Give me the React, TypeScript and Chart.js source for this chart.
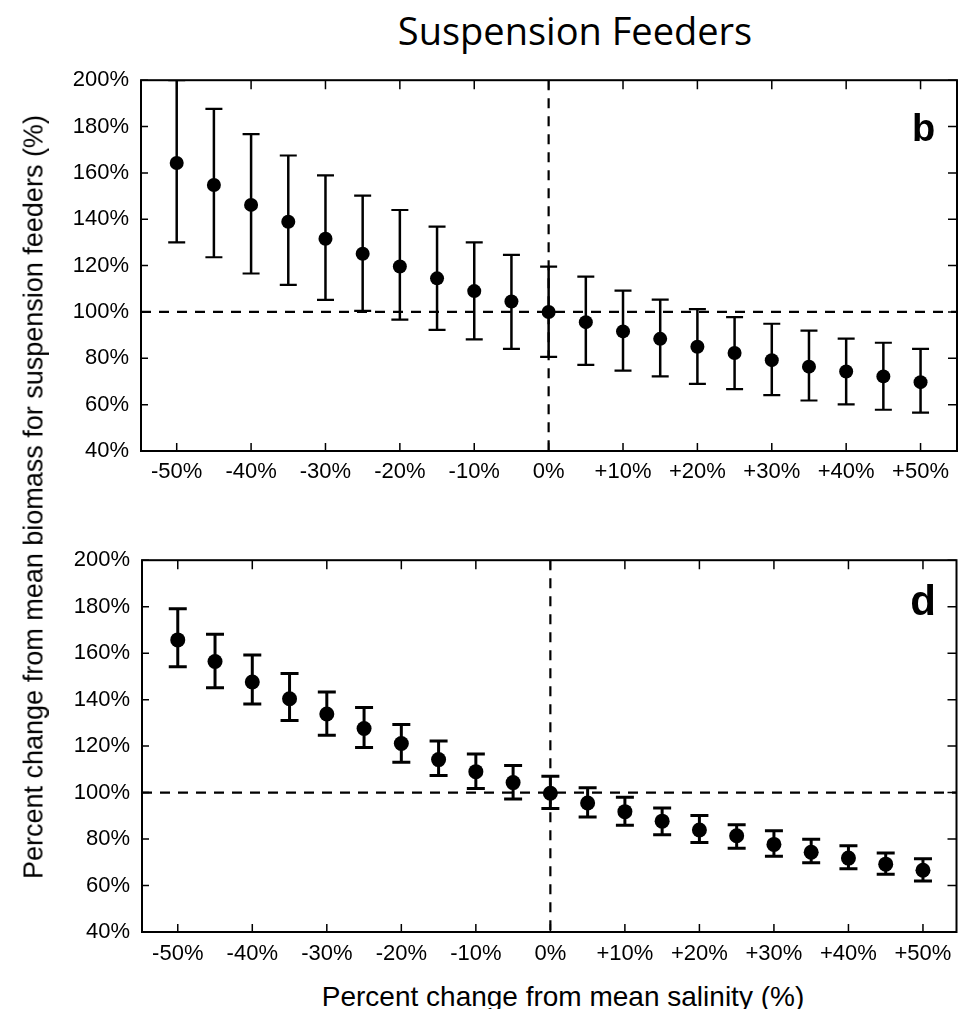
import React, { useEffect, useRef } from 'react';
import { Chart, registerables } from 'chart.js';

Chart.register(...registerables);

// ---------- data ----------
const xValues = [-50, -45, -40, -35, -30, -25, -20, -15, -10, -5, 0, 5, 10, 15, 20, 25, 30, 35, 40, 45, 50];
const xTickValues = [-50, -40, -30, -20, -10, 0, 10, 20, 30, 40, 50];
const yTickValues = [40, 60, 80, 100, 120, 140, 160, 180, 200];

// panel b
const meanB = [164.3, 154.8, 146.2, 138.9, 131.6, 125.1, 119.6, 114.5, 109.0, 104.5, 100.0, 95.6, 91.6, 88.4, 85.0, 82.3, 79.2, 76.4, 74.3, 72.2, 69.7];
const upperB = [200.0, 187.6, 176.7, 167.5, 158.9, 150.2, 144.0, 136.8, 130.0, 124.6, 119.6, 115.2, 109.2, 105.3, 101.2, 97.8, 94.9, 91.9, 88.5, 86.7, 84.1];
const lowerB = [130.0, 123.6, 116.6, 111.7, 105.2, 100.5, 96.7, 92.3, 88.2, 84.1, 80.6, 77.2, 74.7, 72.2, 69.0, 66.7, 64.1, 61.8, 60.1, 57.8, 56.6];

// panel d
const meanD = [165.7, 156.4, 147.6, 140.4, 133.8, 127.6, 121.1, 114.2, 109.0, 104.3, 99.7, 95.5, 91.8, 87.7, 83.9, 81.4, 77.7, 74.3, 71.8, 69.2, 66.6];
const upperD = [179.1, 168.1, 159.2, 151.2, 143.3, 136.6, 129.3, 122.2, 116.6, 111.7, 107.0, 102.1, 98.0, 93.4, 90.1, 86.2, 83.6, 79.9, 77.1, 74.0, 71.5];
const lowerD = [154.1, 145.1, 138.1, 131.0, 124.7, 119.4, 113.1, 107.4, 101.8, 97.2, 93.2, 89.5, 85.9, 81.8, 78.5, 76.0, 72.6, 69.8, 67.2, 64.9, 62.0];

const TITLE = 'Suspension Feeders';
const Y_LABEL = 'Percent change from mean biomass for suspension feeders (%)';
const X_LABEL = 'Percent change from mean salinity (%)';

const TICK_FONT = '"Liberation Sans", Arial, Helvetica, sans-serif';

type PanelCfg = {
  mean: number[];
  lower: number[];
  upper: number[];
  letter: string;
  letterSize: number;
  letterX: number;
  letterY: number;
  xMin: number;
  xMax: number;
  top: number;
  height: number;
  padTop: number;
  padRight: number;
  yAxisWidth: number;
  xAxisHeight: number;
  xTickPad: number;
  barWidth: number;
  capWidth: number;
  capHalf: number;
  pointRadius: number;
};

const panelB: PanelCfg = {
  mean: meanB, lower: lowerB, upper: upperB,
  letter: 'b', letterSize: 38, letterX: 50.4, letterY: 173.8,
  xMin: -54.8, xMax: 54.9,
  top: 55, height: 440, padTop: 18, padRight: 3,
  yAxisWidth: 141, xAxisHeight: 44, xTickPad: 8,
  barWidth: 2.5, capWidth: 2.2, capHalf: 8.5, pointRadius: 7,
};

const panelD: PanelCfg = {
  mean: meanD, lower: lowerD, upper: upperD,
  letter: 'd', letterSize: 42, letterX: 50.0, letterY: 176.3,
  xMin: -54.8, xMax: 54.5,
  top: 535, height: 440, padTop: 19, padRight: 2,
  yAxisWidth: 142, xAxisHeight: 43, xTickPad: 9,
  barWidth: 3, capWidth: 3, capHalf: 9, pointRadius: 7.5,
};

function fmtX(v: number) {
  if (v === 0) return '0%';
  return v > 0 ? `+${v}%` : `${v}%`;
}

function makePlugin(cfg: PanelCfg) {
  return {
    id: 'panelDecor',
    beforeDatasetsDraw(chart: any) {
      const { ctx, chartArea: a, scales } = chart;
      const xs = scales.x;
      const ys = scales.y;
      ctx.save();
      ctx.beginPath();
      ctx.rect(a.left, a.top, a.right - a.left, a.bottom - a.top);
      ctx.clip();
      // dashed reference lines
      ctx.strokeStyle = '#000';
      ctx.lineWidth = 2.2;
      ctx.setLineDash([10, 8]);
      const y100 = ys.getPixelForValue(100);
      ctx.beginPath();
      ctx.moveTo(a.left, y100);
      ctx.lineTo(a.right, y100);
      ctx.stroke();
      const x0 = xs.getPixelForValue(0);
      ctx.beginPath();
      ctx.moveTo(x0, a.top);
      ctx.lineTo(x0, a.bottom);
      ctx.stroke();
      ctx.setLineDash([]);
      // error bars
      ctx.lineCap = 'butt';
      for (let i = 0; i < xValues.length; i++) {
        const px = xs.getPixelForValue(xValues[i]);
        const yl = ys.getPixelForValue(cfg.lower[i]);
        const yh = ys.getPixelForValue(cfg.upper[i]);
        ctx.lineWidth = cfg.barWidth;
        ctx.beginPath();
        ctx.moveTo(px, yl);
        ctx.lineTo(px, yh);
        ctx.stroke();
        ctx.lineWidth = cfg.capWidth;
        ctx.beginPath();
        ctx.moveTo(px - cfg.capHalf, yl);
        ctx.lineTo(px + cfg.capHalf, yl);
        ctx.moveTo(px - cfg.capHalf, yh);
        ctx.lineTo(px + cfg.capHalf, yh);
        ctx.stroke();
      }
      ctx.restore();
    },
    afterDatasetsDraw(chart: any) {
      const { ctx, chartArea: a, scales } = chart;
      const xs = scales.x;
      const ys = scales.y;
      ctx.save();
      ctx.strokeStyle = '#000';
      // frame
      ctx.lineWidth = 2;
      ctx.strokeRect(a.left, a.top, a.right - a.left, a.bottom - a.top);
      // inward ticks
      ctx.lineWidth = 1.5;
      ctx.beginPath();
      for (const v of xTickValues) {
        const px = xs.getPixelForValue(v);
        ctx.moveTo(px, a.bottom);
        ctx.lineTo(px, a.bottom - 8);
        ctx.moveTo(px, a.top);
        ctx.lineTo(px, a.top + 9);
      }
      for (const v of yTickValues) {
        const py = ys.getPixelForValue(v);
        ctx.moveTo(a.left, py);
        ctx.lineTo(a.left + 7, py);
        ctx.moveTo(a.right, py);
        ctx.lineTo(a.right - 9, py);
      }
      ctx.stroke();
      // panel letter
      ctx.fillStyle = '#000';
      ctx.font = `bold ${cfg.letterSize}px ${TICK_FONT}`;
      ctx.textAlign = 'center';
      ctx.textBaseline = 'alphabetic';
      ctx.fillText(cfg.letter, xs.getPixelForValue(cfg.letterX), ys.getPixelForValue(cfg.letterY));
      ctx.restore();
    },
  };
}

function Panel({ cfg }: { cfg: PanelCfg }) {
  const ref = useRef<HTMLCanvasElement | null>(null);
  useEffect(() => {
    if (!ref.current) return;
    const chart = new Chart(ref.current, {
      type: 'scatter',
      data: {
        datasets: [
          {
            data: xValues.map((x, i) => ({ x, y: cfg.mean[i] })),
            pointRadius: cfg.pointRadius,
            pointHoverRadius: cfg.pointRadius,
            pointBackgroundColor: '#000',
            pointBorderColor: '#000',
            pointBorderWidth: 0,
            showLine: false,
          } as any,
        ],
      },
      options: {
        animation: false,
        responsive: false,
        maintainAspectRatio: false,
        devicePixelRatio: 1,
        events: [],
        layout: { padding: { left: 0, right: cfg.padRight, top: cfg.padTop, bottom: 0 } },
        plugins: {
          legend: { display: false },
          tooltip: { enabled: false },
          title: { display: false },
        },
        scales: {
          x: {
            type: 'linear',
            min: cfg.xMin,
            max: cfg.xMax,
            afterBuildTicks: (s: any) => {
              s.ticks = xTickValues.map((v) => ({ value: v }));
            },
            afterFit: (s: any) => {
              s.height = cfg.xAxisHeight;
            },
            grid: { display: false, drawTicks: false },
            border: { display: false },
            ticks: {
              autoSkip: false,
              maxRotation: 0,
              minRotation: 0,
              padding: cfg.xTickPad,
              color: '#000',
              font: { family: TICK_FONT, size: 22 },
              callback: (v: any) => fmtX(Number(v)),
            },
          },
          y: {
            type: 'linear',
            min: 40,
            max: 200,
            afterBuildTicks: (s: any) => {
              s.ticks = yTickValues.map((v) => ({ value: v }));
            },
            afterFit: (s: any) => {
              s.width = cfg.yAxisWidth;
            },
            grid: { display: false, drawTicks: false },
            border: { display: false },
            ticks: {
              autoSkip: false,
              padding: 12,
              color: '#000',
              font: { family: TICK_FONT, size: 22 },
              callback: (v: any) => `${v}%`,
            },
          },
        },
      } as any,
      plugins: [makePlugin(cfg)],
    });
    return () => chart.destroy();
  }, [cfg]);
  return (
    <canvas
      ref={ref}
      width={964}
      height={cfg.height}
      style={{ position: 'absolute', left: 0, top: cfg.top, width: 964, height: cfg.height }}
    />
  );
}

export default function App() {
  return (
    <div
      style={{
        position: 'absolute',
        left: 0,
        top: 0,
        width: 964,
        height: 1009,
        overflow: 'hidden',
        background: '#fff',
      }}
    >
      <div
        style={{
          position: 'absolute',
          left: 575,
          top: 11,
          transform: 'translateX(-50%)',
          whiteSpace: 'nowrap',
          font: '38px "Open Sans", "Noto Sans", sans-serif',
          lineHeight: '38px',
          color: '#000',
        }}
      >
        {TITLE}
      </div>
      <Panel cfg={panelB} />
      <Panel cfg={panelD} />
      <div
        style={{
          position: 'absolute',
          left: 34,
          top: 497,
          transform: 'translate(-50%, -50%) rotate(-90deg)',
          whiteSpace: 'nowrap',
          font: `27px ${TICK_FONT}`,
          lineHeight: '27px',
          color: '#000',
        }}
      >
        {Y_LABEL}
      </div>
      <div
        style={{
          position: 'absolute',
          left: 563,
          top: 983,
          transform: 'translateX(-50%)',
          whiteSpace: 'nowrap',
          font: `28px ${TICK_FONT}`,
          lineHeight: '28px',
          color: '#000',
        }}
      >
        {X_LABEL}
      </div>
    </div>
  );
}
